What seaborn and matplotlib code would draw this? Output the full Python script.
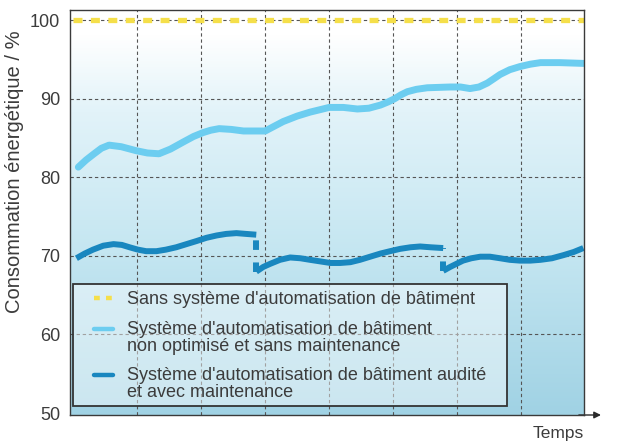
import matplotlib
matplotlib.use("Agg")
import matplotlib.pyplot as plt
import numpy as np
import pandas as pd
import seaborn as sns
from matplotlib.colors import LinearSegmentedColormap
from matplotlib.legend_handler import HandlerLine2D
from matplotlib.lines import Line2D
from matplotlib.patches import Rectangle

# values (time in grid units, consumption in %)
reference_time = [0.0, 8.0]
reference_cons = [100.0, 100.0]

light_time = [0.08, 0.20, 0.31, 0.44, 0.56, 0.75, 0.98, 1.16, 1.34, 1.52, 1.72, 1.88, 2.03,
              2.15, 2.28, 2.47, 2.66, 3.0, 3.14, 3.28, 3.50, 3.70, 4.0, 4.22, 4.44, 4.62,
              4.80, 4.92, 5.02, 5.12, 5.22, 5.36, 5.53, 5.89, 6.05, 6.20, 6.34, 6.47, 6.58,
              6.67, 6.82, 6.98, 7.14, 7.30, 7.60, 7.98]
light_cons = [81.3, 82.2, 82.9, 83.7, 84.1, 83.9, 83.4, 83.1, 83.0, 83.6, 84.5, 85.2, 85.7,
              86.0, 86.2, 86.1, 85.9, 85.9, 86.5, 87.1, 87.8, 88.3, 88.9, 88.9, 88.7, 88.8,
              89.2, 89.6, 90.0, 90.5, 90.9, 91.2, 91.4, 91.5, 91.5, 91.3, 91.5, 92.0, 92.6,
              93.1, 93.7, 94.1, 94.4, 94.6, 94.6, 94.5]

dark_time_1 = [0.05, 0.18, 0.31, 0.47, 0.63, 0.76, 0.88, 1.01, 1.14, 1.30, 1.45, 1.61, 1.77,
               1.93, 2.08, 2.24, 2.39, 2.55, 2.70, 2.86]
dark_cons_1 = [69.7, 70.3, 70.8, 71.3, 71.5, 71.4, 71.1, 70.8, 70.6, 70.6, 70.8, 71.1, 71.5,
               71.9, 72.3, 72.6, 72.8, 72.9, 72.8, 72.7]
dark_time_2 = [2.86, 2.97, 3.08, 3.23, 3.39, 3.55, 3.70, 3.86, 4.02, 4.17, 4.33, 4.48, 4.64,
               4.80, 4.95, 5.11, 5.27, 5.42, 5.58, 5.78]
dark_cons_2 = [68.0, 68.6, 69.0, 69.5, 69.8, 69.7, 69.5, 69.3, 69.1, 69.1, 69.2, 69.5, 69.9,
               70.3, 70.6, 70.9, 71.1, 71.2, 71.1, 71.0]
dark_time_3 = [5.78, 5.89, 5.99, 6.09, 6.22, 6.36, 6.51, 6.67, 6.82, 6.98, 7.14, 7.30, 7.48,
               7.66, 7.82, 7.97]
dark_cons_3 = [68.1, 68.6, 69.0, 69.4, 69.7, 69.9, 69.9, 69.7, 69.5, 69.4, 69.4, 69.5, 69.7,
               70.1, 70.5, 71.0]

y_ticks = [50, 60, 70, 80, 90, 100]
x_grid = [1, 2, 3, 4, 5, 6, 7]

labels = [
    "Sans système d'automatisation de bâtiment",
    "Système d'automatisation de bâtiment\nnon optimisé et sans maintenance",
    "Système d'automatisation de bâtiment audité\net avec maintenance",
]

yellow = "#f5df4a"
light_blue = "#6ccdf0"
dark_blue = "#1987bf"
text_color = "#3c3c3c"


class FirstLineHandler(HandlerLine2D):
    """Puts the legend line next to the first text line of a two-line label."""

    def __init__(self, shift=0.0, **kw):
        super().__init__(**kw)
        self.shift = shift

    def create_artists(self, legend, orig_handle, xdescent, ydescent, width, height, fontsize, trans):
        artists = super().create_artists(legend, orig_handle, xdescent, ydescent, width, height, fontsize, trans)
        for a in artists:
            a.set_ydata(np.asarray(a.get_ydata()) + self.shift)
        return artists


sns.set_style("white")
plt.rcParams["font.family"] = ["Liberation Sans", "DejaVu Sans"]

fig = plt.figure(figsize=(6.36, 4.41), dpi=100)
ax = fig.add_axes([70 / 636, 26 / 441, 514 / 636, 405 / 441])

x_lim = (-0.05, 7.98)
y_lim = (49.75, 101.3)

# background gradient: light blue at the bottom, white at the top
bg_cmap = LinearSegmentedColormap.from_list(
    "bg", [(0.0, "#a0d2e4"), (0.4, "#c4e6f1"), (0.75, "#e2f3f9"), (0.94, "#ffffff"), (1.0, "#ffffff")]
)
grad = np.linspace(0, 1, 256).reshape(-1, 1)
ax.imshow(grad, extent=[x_lim[0], x_lim[1], y_lim[0], y_lim[1]], origin="lower",
          aspect="auto", cmap=bg_cmap, zorder=0)

grid_kw = dict(color="#555555", lw=0.8, linestyle=(0, (3, 2.5)), zorder=1)
for gx in x_grid:
    ax.axvline(gx, **grid_kw)
for gy in y_ticks[1:]:
    ax.axhline(gy, **grid_kw)

ref_df = pd.DataFrame({"temps": reference_time, "conso": reference_cons})
light_df = pd.DataFrame({"temps": light_time, "conso": light_cons})
dark_df = pd.concat([
    pd.DataFrame({"temps": dark_time_1, "conso": dark_cons_1, "segment": 1}),
    pd.DataFrame({"temps": dark_time_2, "conso": dark_cons_2, "segment": 2}),
    pd.DataFrame({"temps": dark_time_3, "conso": dark_cons_3, "segment": 3}),
])

sns.lineplot(data=ref_df, x="temps", y="conso", ax=ax, color=yellow, lw=3.8,
             zorder=3).lines[-1].set_dashes((1.7, 1.6))
sns.lineplot(data=light_df, x="temps", y="conso", ax=ax, color=light_blue, lw=5.0,
             zorder=3, solid_capstyle="round", solid_joinstyle="round")
sns.lineplot(data=dark_df, x="temps", y="conso", units="segment", estimator=None, ax=ax,
             color=dark_blue, lw=4.3, zorder=4, solid_capstyle="butt", solid_joinstyle="round")

# dashed drops where maintenance resets consumption
drop_x = [dark_time_1[-1], dark_time_2[-1]]
drop_top = [dark_cons_1[-1], dark_cons_2[-1]]
drop_bottom = [dark_cons_2[0], dark_cons_3[0]]
ax.vlines(drop_x, drop_bottom, drop_top, colors=dark_blue, lw=4.3,
          linestyles=[(0, (1.6, 2.1))], zorder=4)

ax.set_xlim(*x_lim)
ax.set_ylim(*y_lim)
ax.set_yticks(y_ticks)
ax.set_yticklabels([str(v) for v in y_ticks], fontsize=13, color=text_color)
ax.set_xticks([])
ax.tick_params(axis="y", length=0, pad=7)
ax.set_xlabel("")
ax.set_ylabel("Consommation énergétique / %", fontsize=14.5, color=text_color)
ax.yaxis.set_label_coords(-0.09, 0.6)

for spine in ax.spines.values():
    spine.set_color("#3a3a3a")
    spine.set_linewidth(1.0)
    spine.set_zorder(5)

# arrow at the end of the time axis
ax.annotate("", xy=(1.033, 0), xytext=(0.99, 0), xycoords="axes fraction",
            arrowprops=dict(arrowstyle="-|>", color="#2a2a2a", lw=1.0,
                            mutation_scale=10, shrinkA=0, shrinkB=0),
            annotation_clip=False)
ax.text(0.949, -0.045, "Temps", transform=ax.transAxes, ha="center", va="center",
        fontsize=12.5, color=text_color, clip_on=False)

# legend box
ax.add_patch(Rectangle((0.006, 0.022), 0.844, 0.301, transform=ax.transAxes,
                       facecolor="white", alpha=0.45, edgecolor="none", zorder=6))
ax.add_patch(Rectangle((0.006, 0.022), 0.844, 0.301, transform=ax.transAxes,
                       facecolor="none", edgecolor="#333333", lw=1.3, zorder=7))
handles = [
    Line2D([], [], color=yellow, lw=3.2, dashes=(1.3, 1.4)),
    Line2D([], [], color=light_blue, lw=3.2),
    Line2D([], [], color=dark_blue, lw=3.2),
]
leg = ax.legend(handles, labels, loc="upper left", bbox_to_anchor=(0.047, 0.305),
                frameon=False, fontsize=13, handlelength=1.05, handletextpad=0.75,
                labelspacing=0.67, borderaxespad=0, borderpad=0,
                handler_map={handles[1]: FirstLineHandler(shift=6.5),
                             handles[2]: FirstLineHandler(shift=6.5)})
leg.set_zorder(8)
for t in leg.get_texts():
    t.set_color(text_color)
    t.set_linespacing(1.02)

fig.savefig("out.png", dpi=100)
